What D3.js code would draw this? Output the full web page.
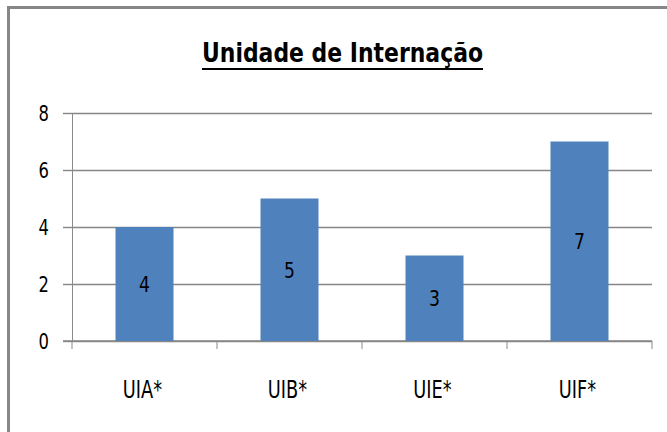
<!DOCTYPE html>
<html>
<head>
<meta charset="utf-8">
<script src="https://cdn.jsdelivr.net/npm/d3@7"></script>
<style>
  body { margin: 0; background: #fff; }
  svg text { font-family: "DejaVu Sans", sans-serif; fill: #000; }
</style>
</head>
<body>
<div id="chart"></div>
<script>
var categories = ["UIA*", "UIB*", "UIE*", "UIF*"];
var values = [4, 5, 3, 7];
var yTicks = [0, 2, 4, 6, 8];
var title = "Unidade de Internação";

var width = 667, height = 432;
var plotLeft = 72, plotRight = 652, plotTop = 113, plotBottom = 341;

var svg = d3.select('#chart').append('svg')
  .attr('width', width)
  .attr('height', height);

// outer frame (runs off the right and bottom edges)
svg.append('rect')
  .attr('x', 8.5).attr('y', 7.5)
  .attr('width', 720).attr('height', 500)
  .attr('fill', 'none')
  .attr('stroke', '#878787')
  .attr('stroke-width', 3);

var x = d3.scaleBand()
  .domain(categories)
  .range([plotLeft, plotRight])
  .paddingInner(0.6)
  .paddingOuter(0.3);

var y = d3.scaleLinear().domain([0, 8]).range([plotBottom, plotTop]);

// squeeze text horizontally, the original font is narrow
function squeeze(sel, f) {
  sel.each(function() {
    var w = this.getComputedTextLength();
    d3.select(this).attr('textLength', w * f).attr('lengthAdjust', 'spacingAndGlyphs');
  });
}

// gridlines
svg.append('g')
  .attr('transform', 'translate(' + plotLeft + ',0)')
  .call(d3.axisLeft(y).tickValues(yTicks).tickSize(-(plotRight - plotLeft)).tickFormat(''))
  .call(function(g) {
    g.select('.domain').remove();
    g.selectAll('line').attr('stroke', '#868686').attr('stroke-width', 1.4);
  });

// y axis with outside ticks and labels
var yAxis = svg.append('g')
  .attr('transform', 'translate(' + plotLeft + ',0)')
  .call(d3.axisLeft(y).tickValues(yTicks).tickSizeInner(9).tickSizeOuter(0).tickPadding(14));
yAxis.select('.domain').attr('stroke', '#8a8a8a').attr('stroke-width', 1);
yAxis.selectAll('line').attr('stroke', '#868686').attr('stroke-width', 1.4);
yAxis.selectAll('text')
  .attr('font-size', 21)
  .attr('font-family', '"DejaVu Sans", sans-serif')
  .attr('fill', '#000')
  .attr('dy', '0.36em')
  .call(squeeze, 0.78);

// x axis: ticks at category boundaries
var bounds = categories.map(function(c) { return x(c) - x.step() * x.paddingOuter(); });
bounds.push(plotRight);
var xAxis = svg.append('g')
  .attr('transform', 'translate(0,' + plotBottom + ')');
xAxis.append('line')
  .attr('x1', plotLeft - 9).attr('x2', plotRight)
  .attr('stroke', '#868686').attr('stroke-width', 1.6);
xAxis.selectAll('.tick')
  .data(bounds)
  .enter().append('line')
  .attr('x1', function(d) { return d; })
  .attr('x2', function(d) { return d; })
  .attr('y1', 0).attr('y2', 8)
  .attr('stroke', '#8a8a8a').attr('stroke-width', 1);

xAxis.selectAll('.xl')
  .data(categories)
  .enter().append('text')
  .attr('class', 'xl')
  .attr('x', function(d) { return x(d) + x.bandwidth() / 2 - 2; })
  .attr('y', 57)
  .attr('text-anchor', 'middle')
  .attr('font-size', 24)
  .text(function(d) { return d; })
  .call(squeeze, 0.74);

// bars
svg.selectAll('.bar')
  .data(values)
  .enter().append('rect')
  .attr('class', 'bar')
  .attr('x', function(d, i) { return x(categories[i]); })
  .attr('y', function(d) { return y(d); })
  .attr('width', x.bandwidth())
  .attr('height', function(d) { return y(0) - y(d); })
  .attr('fill', '#4f81bd');

// value labels in the middle of each bar
svg.selectAll('.val')
  .data(values)
  .enter().append('text')
  .attr('class', 'val')
  .attr('x', function(d, i) { return x(categories[i]) + x.bandwidth() / 2; })
  .attr('y', function(d) { return (y(d) + y(0)) / 2; })
  .attr('dy', '0.36em')
  .attr('text-anchor', 'middle')
  .attr('font-size', 22)
  .text(function(d) { return d; })
  .call(squeeze, 0.78);

// title, bold and underlined
var t = svg.append('text')
  .attr('x', 342.5)
  .attr('y', 62)
  .attr('text-anchor', 'middle')
  .attr('font-size', 26)
  .attr('font-weight', 'bold')
  .text(title);
t.attr('textLength', 281).attr('lengthAdjust', 'spacingAndGlyphs');
svg.append('line')
  .attr('x1', 342.5 - 140.5).attr('x2', 342.5 + 140.5)
  .attr('y1', 69).attr('y2', 69)
  .attr('stroke', '#000').attr('stroke-width', 2);
</script>
</body>
</html>
